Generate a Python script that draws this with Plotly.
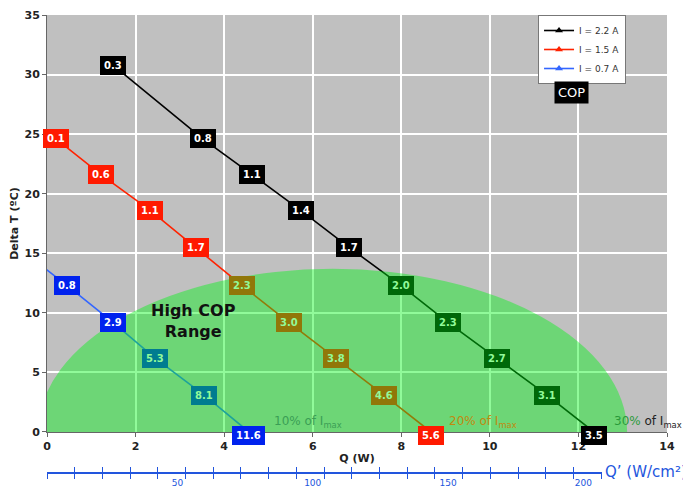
import plotly.graph_objects as go

# ---------------- data ----------------
series_names = ["I = 2.2 A", "I = 1.5 A", "I = 0.7 A"]

q_22 = [1.49, 3.52, 4.63, 5.73, 6.82, 7.99, 9.05, 10.16, 11.29, 12.35]
dt_22 = [30.8, 24.6, 21.6, 18.6, 15.5, 12.3, 9.2, 6.2, 3.1, 0]
cop_22 = ["0.3", "0.8", "1.1", "1.4", "1.7", "2.0", "2.3", "2.7", "3.1", "3.5"]

q_15 = [-0.85, 0.20, 1.22, 2.33, 3.36, 4.40, 5.46, 6.53, 7.61, 8.67]
dt_15 = [27.7, 24.6, 21.6, 18.6, 15.5, 12.3, 9.2, 6.2, 3.1, 0]
cop_15 = [None, "0.1", "0.6", "1.1", "1.7", "2.3", "3.0", "3.8", "4.6", "5.6"]

q_07 = [-0.55, 0.45, 1.49, 2.44, 3.55, 4.56]
dt_07 = [15.2, 12.3, 9.2, 6.2, 3.1, 0]
cop_07 = [None, "0.8", "2.9", "5.3", "8.1", "11.6"]

x_ticks = [0, 2, 4, 6, 8, 10, 12, 14]
y_ticks = [0, 5, 10, 15, 20, 25, 30, 35]
qprime_labels = [50, 100, 150, 200]

# ---------------- styling ----------------
FONT = "DejaVu Sans"
CX, A, B = 6.45, 6.65, 13.7          # high-COP half ellipse (centre on y=0)
OV, AL = (0, 243, 20), 0.43          # overlay colour / alpha

def tint(rgb):
    return "rgb(%d,%d,%d)" % tuple(round(c * (1 - AL) + o * AL) for c, o in zip(rgb, OV))

def inside(x, y):
    return y > 0 and ((x - CX) / A) ** 2 + (y / B) ** 2 < 1

specs = [
    (series_names[0], q_22, dt_22, cop_22, "#000000", (0, 0, 0)),
    (series_names[1], q_15, dt_15, cop_15, "#ff2200", (255, 26, 0)),
    (series_names[2], q_07, dt_07, cop_07, "#3366ff", (0, 34, 238)),
]

fig = go.Figure()
annotations = []
for name, qs, dts, cops, lc, box in specs:
    fig.add_trace(go.Scatter(
        x=qs, y=dts, name=name, mode="lines+markers",
        line=dict(color=lc, width=1.6),
        marker=dict(symbol="triangle-up", size=7, color=lc),
        hoverinfo="skip",
    ))
    for x, y, t in zip(qs, dts, cops):
        if not t:
            continue
        ins = inside(x, y)
        col = tint(box) if ins else "rgb(%d,%d,%d)" % box
        annotations.append(dict(
            x=x, y=y, xref="x", yref="y", text=t, showarrow=False,
            bgcolor=col, bordercolor=col, borderpad=3,
            font=dict(family=FONT, size=10, color=tint((255, 255, 255)) if ins else "white", weight="bold"),
            yshift=-4 if y == 0 else 0,
        ))

# dummy traces so the secondary (Q') axes are drawn on their own thin subplot
for ax in ["x2", "x3", "x4"]:
    fig.add_trace(go.Scatter(x=[None], y=[None], xaxis=ax, yaxis="y2",
                             showlegend=False, hoverinfo="skip"))

# text annotations
annotations += [
    dict(x=11.85, y=28.5, xref="x", yref="y", text="COP", showarrow=False,
         bgcolor="black", borderpad=3, font=dict(family=FONT, size=13, color="white")),
    dict(x=3.3, y=9.3, xref="x", yref="y", text="High COP<br>Range", showarrow=False,
         font=dict(family=FONT, size=16, color="#111111", weight="bold")),
    dict(x=5.08, y=0, xref="x", yref="y", xanchor="left", yanchor="bottom",
         text="10% of I<sub>max</sub>", showarrow=False,
         font=dict(family=FONT, size=12, color="#3a9e55")),
    dict(x=9.03, y=0, xref="x", yref="y", xanchor="left", yanchor="bottom",
         text="20% of I<sub>max</sub>", showarrow=False,
         font=dict(family=FONT, size=12, color="#c08a10")),
    dict(x=12.76, y=0, xref="x", yref="y", xanchor="left", yanchor="bottom",
         text="<span style='color:#2a9a3a'>30%</span> of I<sub>max</sub>", showarrow=False,
         font=dict(family=FONT, size=12, color="#222222")),
    dict(x=0.897, y=0.0065, xref="paper", yref="paper", xanchor="left", yanchor="middle",
         text="Q’ (W/cm²)", showarrow=False,
         font=dict(family=FONT, size=15, color="#2255dd")),
]

axis_common = dict(showgrid=True, gridcolor="white", gridwidth=2, zeroline=False,
                   showline=True, linecolor="#666666", linewidth=1, automargin=False,
                   ticks="outside", ticklen=4, tickcolor="#666666",
                   tickfont=dict(family=FONT, size=11, color="#222222", weight="bold"))

QP_RANGE = [1.8, 206.8]
qp_common = dict(anchor="y2", side="bottom", range=QP_RANGE,
                 showgrid=False, zeroline=False, automargin=False, fixedrange=True)

fig.update_layout(
    width=683, height=481,
    margin=dict(l=39, r=24, t=7, b=14, autoexpand=False),
    paper_bgcolor="white", plot_bgcolor="rgba(0,0,0,0)",
    showlegend=True,
    legend=dict(x=0.792, y=1, xanchor="left", yanchor="top",
                bgcolor="white", bordercolor="#777777", borderwidth=1,
                font=dict(family=FONT, size=9, color="#333333"),
                itemwidth=30, tracegroupgap=0),
    xaxis=dict(range=[0, 14], tickvals=x_ticks, **axis_common,
               title=dict(text="Q (W)", standoff=2,
                          font=dict(family=FONT, size=11, color="#222222", weight="bold"))),
    yaxis=dict(range=[0, 35], tickvals=y_ticks, domain=[0.0935, 1], **axis_common,
               title=dict(text="Delta T (ºC)", standoff=6,
                          font=dict(family=FONT, size=11, color="#222222", weight="bold"))),
    yaxis2=dict(domain=[0.0065, 0.02], visible=False, range=[0, 1], fixedrange=True),
    xaxis2=dict(**qp_common, domain=[0, 0.8947], showline=True, linecolor="#2255dd", linewidth=2,
                tickmode="linear", tick0=1.8, dtick=10.24, ticks="outside", ticklen=5,
                tickcolor="#2255dd", tickwidth=1, showticklabels=False),
    xaxis3=dict(**qp_common, overlaying="x2", showline=False,
                tickmode="linear", tick0=1.8, dtick=10.24, ticks="inside", ticklen=5,
                tickcolor="#2255dd", tickwidth=1, showticklabels=False),
    xaxis4=dict(**qp_common, overlaying="x2", showline=False, tickmode="array",
                tickvals=qprime_labels, ticks="", showticklabels=True, ticklabelstandoff=4,
                tickfont=dict(family=FONT, size=9, color="#2255dd")),
    shapes=[
        dict(type="rect", xref="x domain", yref="y domain", x0=0, x1=1, y0=0, y1=1,
             fillcolor="#c0c0c0", line=dict(width=0), layer="below"),
        dict(type="circle", xref="x", yref="y", x0=CX - A, x1=CX + A, y0=-B, y1=B,
             fillcolor="rgba(0,243,20,0.43)", line=dict(width=0), layer="above"),
    ],
    annotations=annotations,
)

fig.write_html("out.html")
